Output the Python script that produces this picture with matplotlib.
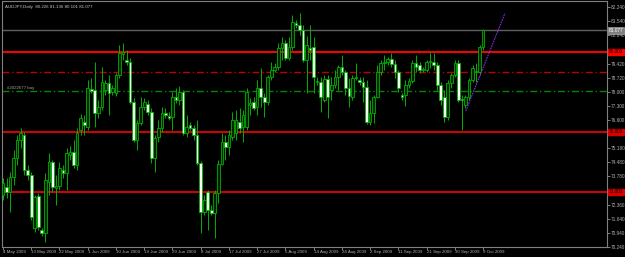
import matplotlib
matplotlib.use("Agg")
import matplotlib.pyplot as plt
import matplotlib.transforms as mtransforms
import numpy as np

# AUDJPY daily candles, 4 May 2009 .. 9 Oct 2009
opens = [72.85, 73.25, 73.00, 73.75, 74.70, 75.60, 75.85, 74.10, 73.85, 71.20,
         72.80, 71.10, 70.95, 73.50, 74.50, 73.20, 73.30, 74.10, 73.95, 74.85,
         75.00, 74.35, 76.10, 76.50, 76.25, 78.15, 78.10, 76.95, 77.25, 78.10,
         78.45, 78.00, 77.95, 78.85, 79.90, 79.60, 79.50, 77.50, 75.60, 76.45,
         77.25, 77.40, 77.00, 74.70, 75.75, 76.20, 76.95, 76.80, 76.75, 77.75,
         77.60, 78.00, 75.95, 76.35, 76.20, 75.85, 74.45, 72.00, 73.00, 72.10,
         71.95, 72.95, 74.40, 75.50, 75.25, 75.75, 75.95, 76.50, 76.25, 76.25,
         77.35, 77.50, 77.25, 78.20, 77.75, 77.50, 78.75, 79.10, 79.25, 80.20,
         80.45, 79.70, 80.25, 81.45, 81.35, 81.10, 79.60, 80.20, 80.25, 78.50,
         78.50, 77.60, 78.65, 78.10, 78.35, 78.75, 79.25, 79.00, 78.20, 77.75,
         78.70, 78.60, 78.50, 78.25, 76.50, 76.95, 77.75, 79.00, 79.45, 79.50,
         79.65, 79.40, 79.00, 77.85, 77.85, 78.35, 78.55, 79.45, 79.35, 79.10,
         79.10, 79.50, 79.50, 79.35, 78.35, 77.75, 76.75, 78.45, 78.85, 79.45,
         77.65, 77.35, 77.75, 78.60, 79.00, 79.00, 80.23]
highs = [73.70, 73.70, 74.00, 75.10, 75.85, 76.20, 76.00, 74.35, 74.00, 72.85,
         72.95, 71.20, 73.95, 74.95, 74.60, 73.85, 74.50, 74.35, 75.20, 75.30,
         75.60, 76.20, 76.90, 76.85, 78.60, 78.70, 79.50, 77.60, 79.25, 78.60,
         78.85, 78.35, 78.95, 80.35, 80.45, 80.10, 79.70, 77.70, 76.60, 77.75,
         77.70, 77.60, 77.20, 75.85, 76.60, 77.25, 77.20, 77.00, 78.00, 78.20,
         78.30, 78.10, 76.85, 76.50, 76.35, 76.60, 74.55, 72.85, 73.10, 72.35,
         73.10, 74.60, 75.95, 75.85, 76.10, 77.00, 77.10, 77.20, 77.10, 78.20,
         77.70, 77.75, 78.60, 79.20, 77.95, 78.85, 79.50, 79.45, 80.45, 80.75,
         80.60, 80.75, 81.85, 81.60, 81.95, 81.35, 80.80, 81.35, 80.75, 78.75,
         78.75, 78.85, 78.85, 78.75, 79.10, 79.35, 79.85, 79.10, 78.70, 78.85,
         79.45, 78.75, 78.75, 78.60, 77.60, 77.85, 79.35, 79.60, 79.85, 79.75,
         79.95, 79.60, 79.10, 77.95, 78.60, 78.70, 79.60, 79.85, 79.50, 79.25,
         79.60, 80.00, 79.95, 79.50, 78.50, 78.10, 78.60, 78.95, 79.60, 79.60,
         77.85, 77.85, 78.70, 79.35, 79.45, 80.35, 81.14]
lows = [72.60, 72.70, 72.00, 73.35, 74.35, 75.20, 73.85, 73.60, 71.60, 71.00,
        71.10, 70.80, 70.50, 72.85, 73.00, 72.35, 73.10, 73.70, 73.10, 74.60,
        74.20, 74.10, 75.85, 75.85, 76.10, 77.95, 76.25, 76.70, 77.10, 77.85,
        76.85, 77.85, 77.80, 78.70, 79.60, 79.35, 77.40, 75.50, 75.10, 76.35,
        77.10, 76.85, 74.45, 74.00, 75.50, 76.00, 76.70, 76.60, 76.10, 77.45,
        77.35, 75.85, 75.75, 76.10, 75.60, 74.35, 70.95, 71.85, 71.10, 71.85,
        70.70, 72.45, 74.35, 74.60, 74.85, 75.60, 75.60, 75.95, 75.50, 76.10,
        76.85, 77.10, 76.85, 77.25, 76.75, 77.35, 78.60, 79.00, 79.10, 79.60,
        79.60, 79.60, 80.10, 81.20, 80.85, 79.50, 77.95, 79.60, 77.95, 78.35,
        77.00, 77.50, 76.70, 77.60, 78.20, 78.10, 78.85, 77.85, 77.25, 77.60,
        78.60, 78.35, 77.50, 76.40, 76.35, 76.45, 77.70, 78.85, 79.10, 79.35,
        79.25, 78.70, 78.00, 77.60, 77.30, 78.20, 78.45, 79.00, 78.95, 79.00,
        79.00, 79.20, 79.10, 78.10, 77.35, 76.50, 76.60, 78.20, 78.75, 77.50,
        76.10, 77.20, 77.60, 78.50, 78.50, 78.85, 80.10]
closes = [73.45, 73.00, 73.75, 74.70, 75.60, 75.95, 74.10, 73.85, 71.75, 72.75,
          71.25, 70.95, 73.60, 74.50, 73.25, 73.30, 74.20, 73.95, 74.95, 75.00,
          74.35, 75.95, 76.70, 76.35, 78.20, 78.05, 76.95, 77.25, 78.50, 78.45,
          77.95, 78.20, 78.85, 79.95, 80.00, 79.50, 77.50, 75.60, 76.45, 77.25,
          77.50, 77.00, 74.70, 75.70, 76.20, 76.95, 76.85, 76.70, 77.75, 77.60,
          78.00, 75.95, 76.25, 76.20, 75.85, 74.45, 72.00, 72.60, 72.10, 71.95,
          72.95, 74.40, 75.50, 75.25, 75.85, 76.60, 76.60, 76.20, 76.85, 78.00,
          77.45, 77.20, 78.20, 77.75, 77.50, 78.75, 79.10, 79.25, 80.20, 80.45,
          79.70, 80.25, 81.50, 81.35, 81.10, 79.60, 80.35, 80.10, 78.75, 78.50,
          77.75, 78.65, 77.75, 78.35, 78.75, 79.25, 79.00, 78.20, 77.80, 78.70,
          78.70, 78.50, 78.25, 76.50, 76.95, 77.75, 79.00, 79.45, 79.50, 79.65,
          79.40, 79.00, 78.20, 77.75, 78.35, 78.55, 79.45, 79.25, 79.10, 79.10,
          79.50, 79.50, 79.35, 78.35, 77.60, 76.75, 78.45, 78.85, 79.45, 77.60,
          77.60, 77.75, 78.60, 79.20, 79.00, 80.25, 81.08]

date_labels = ["4 May 2009", "13 May 2009", "22 May 2009", "1 Jun 2009",
               "10 Jun 2009", "19 Jun 2009", "29 Jun 2009", "8 Jul 2009",
               "17 Jul 2009", "27 Jul 2009", "5 Aug 2009", "14 Aug 2009",
               "24 Aug 2009", "2 Sep 2009", "11 Sep 2009", "21 Sep 2009",
               "30 Sep 2009", "9 Oct 2009"]
bars_per_label = 8

price_ticks = [82.240, 81.540, 80.840, 79.420, 78.720, 78.000, 77.300, 76.600,
               75.180, 74.480, 73.780, 72.360, 71.640, 70.940, 70.240]

levels_solid = [80.0, 76.0, 73.0]
level_colors = ["#ff0000", "#d80000", "#d80000"]
level_dashdot_red = 79.0
level_buy = 78.05
last_price = 81.077

trend_x = [131.1, 142.2]
trend_y = [77.05, 81.94]

# ---------------- figure ----------------
plt.rcParams["font.family"] = "Liberation Sans"
fig = plt.figure(figsize=(6.25, 2.57), dpi=100, facecolor="black")
ax = fig.add_axes([2 / 625, 10 / 257, 605 / 625, 246 / 257], facecolor="black")

n = len(opens)
x = np.arange(n)
o = np.array(opens)
c = np.array(closes)
up = c >= o
green = "#00b000"

ax.vlines(x, lows, highs, color=green, linewidth=0.7, zorder=3)
bottoms = np.minimum(o, c)
heights = np.maximum(np.abs(c - o), 0.03)
ax.bar(x[up], heights[up], bottom=bottoms[up], width=0.75,
       facecolor="#002400", edgecolor=green, linewidth=0.6, zorder=4)
ax.bar(x[~up], heights[~up], bottom=bottoms[~up], width=0.75,
       facecolor="#f2fff2", edgecolor=green, linewidth=0.6, zorder=4)

# horizontal levels
ax.axhline(last_price, color="#606060", linewidth=1.0, zorder=1)
for lv, col in zip(levels_solid, level_colors):
    ax.axhline(lv, color=col, linewidth=1.4, zorder=2)
ax.axhline(level_dashdot_red, color="#c00000", linewidth=1.0,
           linestyle=(0, (5, 2, 1, 2)), zorder=2)
ax.axhline(level_buy, color="#008800", linewidth=1.0,
           linestyle=(0, (5, 2, 1, 2)), zorder=2)
ax.plot(trend_x, trend_y, color="#8a2be2", linewidth=0.8,
        linestyle=(0, (1.5, 0.8)), zorder=5)

ax.set_xlim(-0.28, 171.1)
ax.set_ylim(70.25, 82.55)

for sp in ax.spines.values():
    sp.set_color("#808080")
    sp.set_linewidth(0.8)

ax.yaxis.tick_right()
ax.set_yticks(price_ticks)
ax.set_yticklabels([f"{v:.3f}" for v in price_ticks])
ax.tick_params(axis="y", colors="#b0b0b0", labelsize=3.4, length=2,
               width=0.5, pad=1)

ax.set_xticks(np.arange(0, n, bars_per_label))
ax.set_xticklabels(date_labels, ha="left")
ax.tick_params(axis="x", colors="#b0b0b0", labelsize=3.2, length=2,
               width=0.5, pad=0.5)

trans = mtransforms.blended_transform_factory(ax.transAxes, ax.transData)
for lv, col in zip(levels_solid, level_colors):
    ax.text(1.003, lv, f"{lv:.3f}", transform=trans, fontsize=3.4,
            color="black", va="center", ha="left", clip_on=False,
            bbox=dict(boxstyle="square,pad=0.15", fc=col, ec=col))
ax.text(1.003, last_price, f"{last_price:.3f}", transform=trans, fontsize=3.4,
        color="white", va="center", ha="left", clip_on=False,
        bbox=dict(boxstyle="square,pad=0.15", fc="#808080", ec="#c0c0c0", lw=0.4))

ax.text(0.005, 0.985, "AUDJPY,Daily  80.226 81.136 80.101 81.077",
        transform=ax.transAxes, fontsize=3.2, color="#c8c8c8",
        va="top", ha="left")
ax.text(1.0, level_buy + 0.05, "#2022677 buy", fontsize=3.2,
        color="#a0a0a0", va="bottom", ha="left")

fig.savefig("out.png", dpi=100, facecolor="black")
